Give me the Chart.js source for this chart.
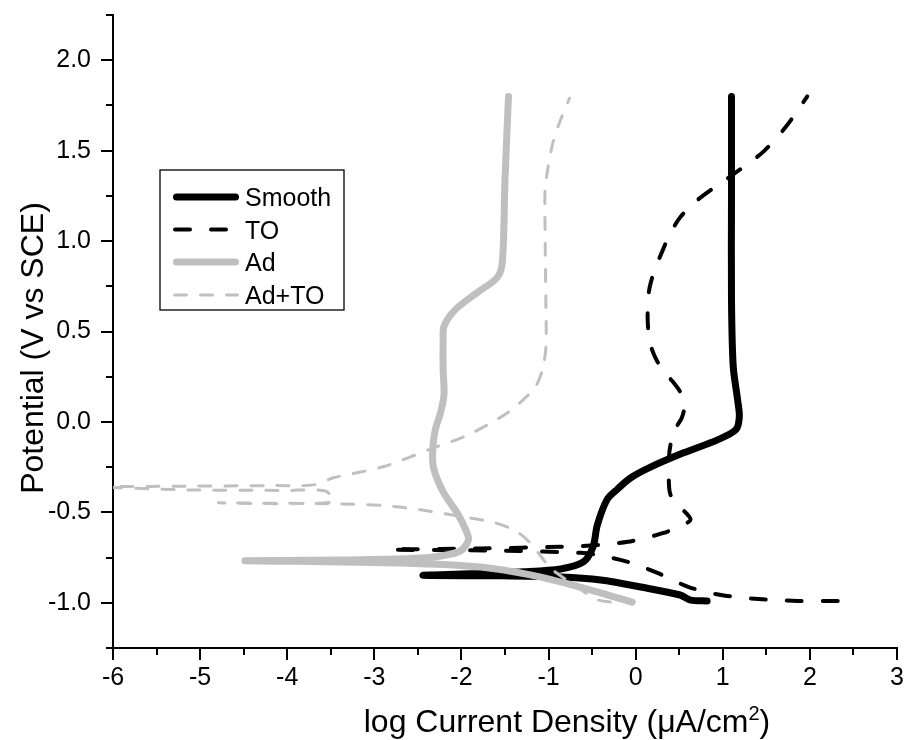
<!DOCTYPE html>
<html>
<head>
<meta charset="utf-8">
<script src="https://cdn.jsdelivr.net/npm/chart.js@4.4.1/dist/chart.umd.min.js"></script>
<style>
  html, body { margin: 0; padding: 0; background: #ffffff; }
  #wrap { width: 907px; height: 740px; position: relative; }
</style>
</head>
<body>
<div id="wrap"><canvas id="chart" width="907" height="740"></canvas></div>
<script>
// Potentiodynamic polarization curves: log current density vs potential.
// Each series is listed in order of increasing sweep potential.

const seriesNames = ['Smooth', 'TO', 'Ad', 'Ad+TO'];

const smoothLogI = [0.82, 0.63, 0.51, 0.06, -0.40, -0.86, -1.55, -2.44, -1.90, -1.29, -0.86, -0.60, -0.49,
  -0.44, -0.33, -0.21, -0.06, 0.17, 0.55, 0.94, 1.15, 1.19, 1.17, 1.12, 1.10, 1.10, 1.10];
const smoothE = [-0.990, -0.985, -0.957, -0.913, -0.874, -0.857, -0.851, -0.848, -0.840, -0.829, -0.813, -0.774, -0.691,
  -0.570, -0.431, -0.372, -0.310, -0.250, -0.171, -0.099, -0.043, 0.029, 0.123, 0.306, 0.677, 1.230, 1.800];

const toLogI = [2.32, 1.86, 1.41, 0.98, 0.61, 0.25, -0.09, -0.44, -0.63, -1.50, -2.82,
  -1.78, -0.86, -0.40, -0.09, 0.11, 0.32, 0.49, 0.63, 0.51, 0.40, 0.38, 0.38, 0.40, 0.45, 0.53, 0.56,
  0.51, 0.38, 0.25, 0.17, 0.14, 0.14, 0.16, 0.22, 0.29, 0.38, 0.51, 0.69, 0.92, 1.20, 1.47, 1.72, 1.97];
const toE = [-0.990, -0.990, -0.979, -0.957, -0.913, -0.835, -0.774, -0.735, -0.724, -0.712, -0.706,
  -0.700, -0.690, -0.680, -0.663, -0.641, -0.614, -0.580, -0.540, -0.470, -0.403, -0.320, -0.209, -0.126, -0.043, 0.023, 0.095,
  0.167, 0.250, 0.333, 0.427, 0.538, 0.649, 0.743, 0.843, 0.926, 1.025, 1.131, 1.219, 1.302, 1.396, 1.496, 1.629, 1.800];

const adLogI = [-0.04, -0.64, -1.21, -1.78, -2.70, -3.85, -4.48, -3.27, -2.47, -2.24, -2.01, -1.92, -1.95, -2.05,
  -2.21, -2.32, -2.33, -2.30, -2.24, -2.20, -2.21, -2.21, -2.20, -2.07, -1.82, -1.59, -1.53, -1.50, -1.46];
const adE = [-0.996, -0.913, -0.846, -0.802, -0.780, -0.771, -0.768, -0.763, -0.752, -0.741, -0.713, -0.652, -0.597, -0.503,
  -0.387, -0.254, -0.154, -0.043, 0.051, 0.151, 0.289, 0.455, 0.530, 0.621, 0.715, 0.798, 0.887, 1.341, 1.800];

const adToLogI = [-0.29, -0.43, -0.59, -0.81, -0.98, -1.09, -1.21, -1.36, -1.61, -1.98, -2.47, -2.85, -3.39, -4.79,
  -3.48, -3.56, -4.00, -5.15, -6.00, -6.50, -6.00, -5.15, -4.20, -3.70, -3.47, -2.90, -2.32, -1.97, -1.70, -1.47,
  -1.29, -1.15, -1.07, -1.03, -1.03, -1.04, -1.04, -1.01, -0.96, -0.89, -0.76];
const adToE = [-0.996, -0.985, -0.940, -0.868, -0.807, -0.741, -0.669, -0.608, -0.558, -0.525, -0.486, -0.464, -0.453, -0.447,
  -0.444, -0.382, -0.379, -0.376, -0.362, -0.360, -0.358, -0.355, -0.352, -0.348, -0.309, -0.248, -0.143, -0.082, -0.016, 0.051,
  0.123, 0.195, 0.289, 0.416, 0.621, 1.064, 1.286, 1.396, 1.524, 1.635, 1.790];

const xTickValues = [-6, -5, -4, -3, -2, -1, 0, 1, 2, 3];
const xTickLabels = ['-6', '-5', '-4', '-3', '-2', '-1', '0', '1', '2', '3'];
const yTickValues = [-1.0, -0.5, 0.0, 0.5, 1.0, 1.5, 2.0];
const yTickLabels = ['-1.0', '-0.5', '0.0', '0.5', '1.0', '1.5', '2.0'];
const xMinorTicks = [-5.5, -4.5, -3.5, -2.5, -1.5, -0.5, 0.5, 1.5, 2.5];
const yMinorTicks = [-1.25, -0.75, -0.25, 0.25, 0.75, 1.25, 1.75, 2.25];

const FONT = '"Liberation Sans", Arial, Helvetica, sans-serif';

function pairs(xs, ys) {
  return xs.map((x, i) => ({ x: x, y: ys[i] }));
}

function labelFor(values, labels, v) {
  const i = values.findIndex((t) => Math.abs(t - v) < 1e-6);
  return i >= 0 ? labels[i] : '';
}

// Minor ticks, axis titles and the boxed legend
const decorPlugin = {
  id: 'decor',
  afterDraw(chart) {
    const ctx = chart.ctx;
    const xs = chart.scales.x, ys = chart.scales.y;
    const area = chart.chartArea;
    ctx.save();
    ctx.strokeStyle = '#000';
    ctx.lineWidth = 2;
    ctx.lineCap = 'butt';
    xMinorTicks.forEach((v) => {
      const px = Math.round(xs.getPixelForValue(v));
      ctx.beginPath();
      ctx.moveTo(px, area.bottom);
      ctx.lineTo(px, area.bottom + 7);
      ctx.stroke();
    });
    yMinorTicks.forEach((v) => {
      const py = Math.round(ys.getPixelForValue(v));
      ctx.beginPath();
      ctx.moveTo(area.left, py);
      ctx.lineTo(area.left - 7, py);
      ctx.stroke();
    });

    // axis titles
    ctx.fillStyle = '#000';
    const mainFont = '32px ' + FONT;
    const supFont = '20px ' + FONT;
    ctx.textBaseline = 'alphabetic';
    ctx.textAlign = 'left';
    const t1 = 'log Current Density (\u03BCA/cm';
    const tail = ')';
    ctx.font = mainFont;
    const w1 = ctx.measureText(t1).width;
    const wTail = ctx.measureText(tail).width;
    ctx.font = supFont;
    const wSup = ctx.measureText('2').width;
    const total = w1 + wSup + wTail;
    const x0 = 567 - total / 2;
    const base = 732;
    ctx.font = mainFont;
    ctx.fillText(t1, x0, base);
    ctx.font = supFont;
    ctx.fillText('2', x0 + w1, base - 12);
    ctx.font = mainFont;
    ctx.fillText(tail, x0 + w1 + wSup, base);

    ctx.save();
    ctx.translate(43, 348);
    ctx.rotate(-Math.PI / 2);
    ctx.textAlign = 'center';
    ctx.fillText('Potential (V vs SCE)', 0, 0);
    ctx.restore();

    // legend
    const lx = 160, ly = 170, lw = 184, lh = 140;
    ctx.fillStyle = '#fff';
    ctx.fillRect(lx, ly, lw, lh);
    ctx.strokeStyle = '#000';
    ctx.lineWidth = 1.3;
    ctx.setLineDash([]);
    ctx.strokeRect(lx, ly, lw, lh);
    const rows = [197, 229.5, 262, 295];
    chart.data.datasets.forEach((ds, i) => {
      const y = rows[i];
      ctx.save();
      ctx.strokeStyle = ds.borderColor;
      ctx.lineWidth = ds.borderWidth;
      ctx.lineCap = 'round';
      ctx.setLineDash(ds.borderDash || []);
      const half = ds.borderWidth / 2;
      ctx.beginPath();
      ctx.moveTo(173 + half, y);
      ctx.lineTo(239 - half, y);
      ctx.stroke();
      ctx.restore();
      ctx.fillStyle = '#000';
      ctx.font = '25px ' + FONT;
      ctx.textAlign = 'left';
      ctx.textBaseline = 'alphabetic';
      ctx.fillText(ds.label, 245, y + 9);
    });
    ctx.restore();
  }
};

const styles = [
  { color: '#000000', width: 7, dash: [] },
  { color: '#000000', width: 4, dash: [15, 21] },
  { color: '#bfbfbf', width: 7, dash: [] },
  { color: '#c0c0c0', width: 3, dash: [12, 14] }
];
const seriesData = [
  pairs(smoothLogI, smoothE),
  pairs(toLogI, toE),
  pairs(adLogI, adE),
  pairs(adToLogI, adToE)
];

const datasets = seriesNames.map((name, i) => ({
  label: name,
  data: seriesData[i],
  showLine: true,
  borderColor: styles[i].color,
  borderWidth: styles[i].width,
  borderDash: styles[i].dash,
  borderCapStyle: 'round',
  borderJoinStyle: 'round',
  pointRadius: 0,
  pointHoverRadius: 0,
  tension: 0.3,
  fill: false,
  order: 3 - i
}));

const tickFont = { family: FONT, size: 25 };

new Chart(document.getElementById('chart'), {
  type: 'scatter',
  data: { datasets: datasets },
  options: {
    responsive: false,
    animation: false,
    events: [],
    layout: { padding: { top: 15, right: 10, left: 0, bottom: 0 } },
    plugins: { legend: { display: false }, tooltip: { enabled: false } },
    scales: {
      x: {
        type: 'linear',
        position: 'bottom',
        min: -6,
        max: 3,
        afterBuildTicks: (s) => { s.ticks = xTickValues.map((v) => ({ value: v })); },
        ticks: {
          autoSkip: false,
          maxRotation: 0,
          padding: 3,
          color: '#000',
          font: tickFont,
          callback: (v) => labelFor(xTickValues, xTickLabels, v)
        },
        grid: { drawOnChartArea: false, drawTicks: true, tickLength: 12, lineWidth: 2, color: '#000' },
        border: { display: true, color: '#000', width: 2 },
        afterFit: (s) => { s.height = 92; s.paddingLeft = 0; s.paddingRight = 0; }
      },
      y: {
        type: 'linear',
        position: 'left',
        min: -1.25,
        max: 2.25,
        afterBuildTicks: (s) => { s.ticks = yTickValues.map((v) => ({ value: v })); },
        ticks: {
          autoSkip: false,
          padding: 10,
          color: '#000',
          font: tickFont,
          callback: (v) => labelFor(yTickValues, yTickLabels, v)
        },
        grid: { drawOnChartArea: false, drawTicks: true, tickLength: 12, lineWidth: 2, color: '#000' },
        border: { display: true, color: '#000', width: 2 },
        afterFit: (s) => { s.width = 113; s.paddingTop = 0; s.paddingBottom = 0; }
      }
    }
  },
  plugins: [decorPlugin]
});
</script>
</body>
</html>
